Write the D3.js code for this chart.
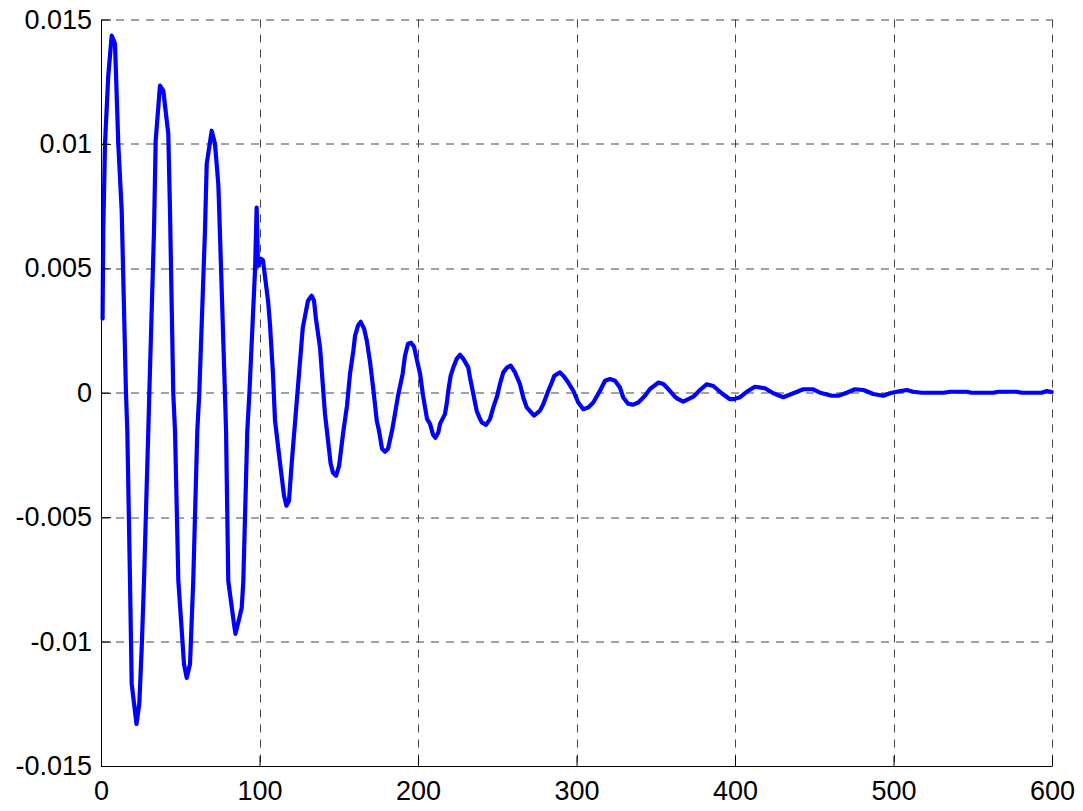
<!DOCTYPE html>
<html>
<head>
<meta charset="utf-8">
<script src="https://cdn.jsdelivr.net/npm/d3@7"></script>
<style>
  html, body { margin: 0; padding: 0; background: #fff; }
  svg { display: block; }
  .tick text { font-family: "Liberation Sans", Arial, Helvetica, sans-serif; font-size: 27px; fill: #000; }
</style>
</head>
<body>
<svg id="chart" width="1083" height="811"></svg>
<script>
// ---- data ----
const tValues = [
  1, 1.45, 2.52, 4.6, 6.75, 8.83, 10.9, 13.06, 15.77, 16.6, 18.3, 19.37, 22.4, 24.16, 25.68, 27.13, 29.84, 30.47,
  33.44, 34.5, 37.2, 39.3, 42.46, 43.53, 45.6, 46.7, 48.8, 52.37, 54.07, 56.15, 58.2, 60.76, 62,
  65.6, 66.7, 69.84, 71.9, 74, 74.6, 78.2, 78.9, 80.3, 83.9, 84.86, 88.8, 89.8, 92.3, 93.6,
  97.2, 98.2, 99.05, 100.9, 102.2, 105.4, 106.6, 108.5, 109.8, 113, 115.5, 117, 118.6, 120.3, 123.7,
  127.3, 130.6, 132.9, 134.4, 135.6, 138.2, 141.3, 144.9, 146.4, 148.3, 150.2, 152.7, 155.2,
  157.1, 159.2, 160.3, 162.1, 163.9, 166, 167.7, 169.8, 171.7, 174, 175.4, 177.3, 179.2, 181.1, 183.6, 185.5, 187.4,
  190.3, 191.8, 193.7, 195.6, 197.5, 199.4, 201.3, 203.2, 205.7, 207.6, 209.5, 211, 212.8, 213.9, 217.0, 218.1, 219.1,
  220.6, 222.3, 224.4, 226.5, 228.6, 231.7, 232.8, 234.9, 237.0, 238.7, 240.2, 242.9, 245.4, 247.5, 250.0,
  251.7, 253.8, 256.3, 258.5, 261.2, 264.3, 266.4, 268.6, 273.2, 277.0, 279.1, 282.2,
  284.4, 286.0, 289.6, 291.7, 294.8, 298.0, 301.1, 304.3, 307.4, 310.6, 314.8,
  318.0, 321.1, 324.3, 327.4, 329.5, 332.7, 335.8, 339.0, 343.2, 346.4,
  351.6, 354.8, 357.9, 362.1, 364.2, 367.4, 373.7, 377.9, 382.1, 386.3, 391.6, 396.8, 398.9, 403.2, 407.4,
  412.6, 418.9, 424.2, 430.5, 436.8, 443.1, 449.4, 453.7, 461.1, 465.2, 470.5, 475.7, 481.0, 487.3, 493.6, 497.8,
  502.0, 508.3, 512.5, 517.8, 531.5, 535.7, 546.2, 549.3, 563.0, 566.1, 577.7, 580.9, 593.5, 596.7, 599.8
];
const yValues = [
  0.00298, 0.00654, 0.01001, 0.01275, 0.01435, 0.01403, 0.01001, 0.00732, -0.00004, -0.00153, -0.00756, -0.0117, -0.01331, -0.0125, -0.01025, -0.00756, -0.00153, -0.00004,
  0.00651, 0.01013, 0.01234, 0.01214, 0.01041, 0.00732, -0.00004, -0.00153, -0.00756, -0.0109, -0.01146, -0.0109, -0.00756, -0.00153, -0.00004,
  0.00651, 0.0092, 0.01053, 0.01001, 0.0084, 0.00732, -0.00004, -0.00153, -0.00756, -0.00929, -0.00969, -0.00864, -0.00756, -0.00153, -0.00004,
  0.00496, 0.00744, 0.0051, 0.00539, 0.00531, 0.0037, 0.00277, 0.00076, -0.00113, -0.00285, -0.00414, -0.00454, -0.00434, -0.00285, -0.0002,
  0.00261, 0.0037, 0.0039, 0.0037, 0.00298, 0.00181, -0.00084, -0.00285, -0.00322, -0.00334, -0.00294, -0.00165, -0.00052,
  0.00076, 0.00169, 0.00229, 0.00269, 0.00285, 0.00257, 0.00209, 0.00121, 0.0002, -0.00113, -0.00153, -0.00225, -0.00237, -0.00225, -0.00153, -0.00084, -0.00012,
  0.00076, 0.00149, 0.00197, 0.00201, 0.00185, 0.00129, 0.00076, -0.00012, -0.00105, -0.00125, -0.00169, -0.00181, -0.0016, -0.00125, -0.00086, -0.00045, 0.00008,
  0.00068, 0.00102, 0.00136, 0.00153, 0.00136, 0.00102, 0.00062, -0.00005, -0.00072, -0.00099, -0.00119, -0.00129, -0.00106, -0.00059, -0.00012,
  0.00035, 0.00082, 0.00102, 0.00109, 0.00082, 0.00035, -0.00019, -0.00059, -0.00092, -0.00072, -0.00045, 0.00008,
  0.00041, 0.00068, 0.00082, 0.00068, 0.00041, 0.00008, -0.00039, -0.00066, -0.00059, -0.00039, 0.00008,
  0.00048, 0.00055, 0.00048, 0.00021, -0.00019, -0.00045, -0.00048, -0.00039, -0.00012, 0.00015,
  0.00041, 0.00035, 0.00015, -0.00016, -0.00026, -0.00036, -0.00016, 0.00011, 0.00034, 0.00027, -0.00002, -0.00026, -0.00026, -0.00018, 0.00004,
  0.00024, 0.00018, -0.00002, -0.00018, -0.00002, 0.00014, 0.00014, 0.0, -0.00012, -0.00012, 0.0, 0.00014, 0.00011, -0.00005, -0.00012, -0.00002,
  0.00004, 0.00011, 0.00004, 0.0, 0.0, 0.00004, 0.00004, 0.0, 0.0, 0.00004, 0.00004, 0.0, 0.0, 0.00007, 0.00003
];
const xTicks = [0, 100, 200, 300, 400, 500, 600];
const xTickLabels = ["0", "100", "200", "300", "400", "500", "600"];
const yTicks = [-0.015, -0.01, -0.005, 0, 0.005, 0.01, 0.015];
const yTickLabels = ["-0.015", "-0.01", "-0.005", "0", "0.005", "0.01", "0.015"];

// ---- layout ----
const margin = { left: 101, right: 31, top: 19.5, bottom: 45 };
const W = 1083, H = 811;
const iw = W - margin.left - margin.right;
const ih = H - margin.top - margin.bottom;

const svg = d3.select("#chart");
const g = svg.append("g").attr("transform", `translate(${margin.left},${margin.top})`);

const x = d3.scaleLinear().domain([0, 600]).range([0, iw]);
const y = d3.scaleLinear().domain([-0.015, 0.015]).range([ih, 0]);

// grid
const grid = g.append("g").attr("class", "grid")
  .attr("stroke", "#444").attr("stroke-width", 1).attr("stroke-dasharray", "8,7").attr("fill", "none");
grid.selectAll("line.v").data(xTicks.slice(1)).join("line")
  .attr("class", "v")
  .attr("x1", d => Math.round(x(d)) + 0.5).attr("x2", d => Math.round(x(d)) + 0.5)
  .attr("y1", 0).attr("y2", ih);
grid.selectAll("line.h").data(yTicks.slice(1)).join("line")
  .attr("class", "h")
  .attr("x1", 0).attr("x2", iw)
  .attr("y1", d => Math.round(y(d)) + 0.5).attr("y2", d => Math.round(y(d)) + 0.5);

// data line
const pts = d3.zip(tValues, yValues);
const line = d3.line().x(d => x(d[0])).y(d => y(d[1]));
g.append("path")
  .datum(pts)
  .attr("fill", "none")
  .attr("stroke", "#0000ff")
  .attr("stroke-width", 4.2)
  .attr("stroke-linejoin", "round")
  .attr("stroke-linecap", "round")
  .attr("d", line);

// axes
const xAxis = d3.axisBottom(x).tickValues(xTicks)
  .tickFormat((d, i) => xTickLabels[i]).tickSizeInner(-10).tickSizeOuter(0).tickPadding(15);
const yAxis = d3.axisLeft(y).tickValues(yTicks)
  .tickFormat((d, i) => yTickLabels[i]).tickSizeInner(-10).tickSizeOuter(0).tickPadding(9);

const gx = g.append("g").attr("transform", `translate(0,${ih})`).call(xAxis);
const gy = g.append("g").call(yAxis);
[gx, gy].forEach(a => {
  a.select(".domain").attr("stroke", "#000").attr("stroke-width", 1);
  a.selectAll(".tick line").attr("stroke", "#000");
  a.attr("font-family", null).attr("font-size", null);
});
</script>
</body>
</html>
